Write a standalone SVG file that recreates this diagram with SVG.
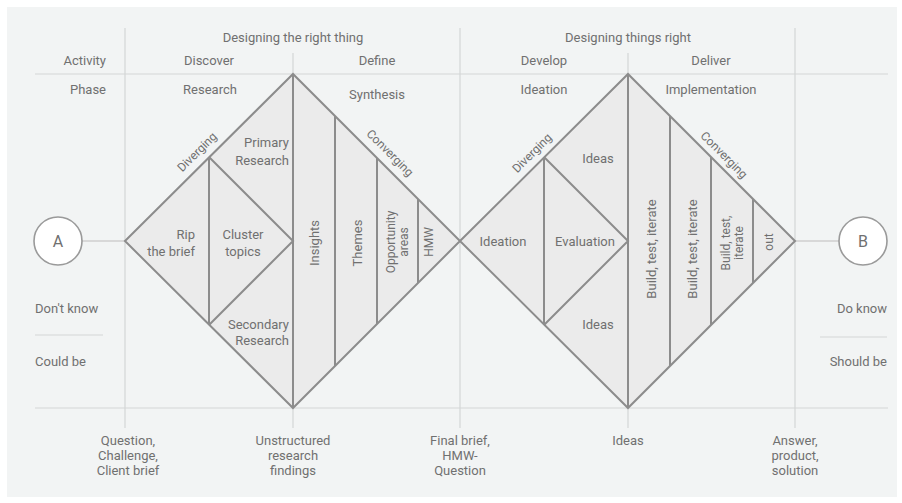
<svg xmlns="http://www.w3.org/2000/svg" width="902" height="503" viewBox="0 0 902 503">
<defs>
<style>
text{font-family:Roboto,"Liberation Sans",sans-serif;font-size:13px;fill:#707070}
.m{text-anchor:middle}
.e{text-anchor:end}
.s{text-anchor:start}
.c{dominant-baseline:central}
.sm{font-size:12px}
.grid{stroke:#d3d5d5;stroke-width:1.2;fill:none}
.dia{stroke:#8c8c8c;stroke-width:2;fill:#ebebeb;stroke-linejoin:miter}
.ln{stroke:#8c8c8c;stroke-width:2;fill:none}
.circ{fill:#ffffff;stroke:#9a9a9a;stroke-width:1.6}
.conn{stroke:#cfcfcf;stroke-width:1.5;fill:none}
</style>
</defs>
<rect x="0" y="0" width="902" height="503" fill="#ffffff"/>
<rect x="7" y="7" width="890" height="490" fill="#f2f4f4"/>

<g id="grid">
<line class="grid" x1="35" y1="74" x2="888" y2="74"/>
<line class="grid" x1="35" y1="408" x2="888" y2="408"/>
<line class="grid" x1="125" y1="28" x2="125" y2="428"/>
<line class="grid" x1="293" y1="53" x2="293" y2="428"/>
<line class="grid" x1="460" y1="28" x2="460" y2="428"/>
<line class="grid" x1="628" y1="53" x2="628" y2="428"/>
<line class="grid" x1="795" y1="28" x2="795" y2="428"/>
<line class="grid" x1="35" y1="335" x2="103" y2="335"/>
<line class="grid" x1="820" y1="337" x2="887" y2="337"/>
</g>

<g id="headers">
<text class="m" x="293" y="42">Designing the right thing</text>
<text class="m" x="628" y="42">Designing things right</text>
<text class="e" x="106" y="65">Activity</text>
<text class="m" x="209" y="65">Discover</text>
<text class="m" x="377" y="65">Define</text>
<text class="m" x="544" y="65">Develop</text>
<text class="m" x="711" y="65">Deliver</text>
<text class="e" x="106" y="94">Phase</text>
<text class="m" x="210" y="94">Research</text>
<text class="m" x="377" y="99">Synthesis</text>
<text class="m" x="544" y="94">Ideation</text>
<text class="m" x="711" y="94">Implementation</text>
</g>

<g id="connectors">
<line class="conn" x1="82" y1="241" x2="125" y2="241"/>
<line class="conn" x1="795" y1="241" x2="839" y2="241"/>
</g>

<g id="nodeA">
<circle class="circ" cx="58" cy="241" r="24"/>
<text class="m c" x="58" y="241" style="font-size:16px">A</text>
</g>
<g id="nodeB">
<circle class="circ" cx="863" cy="241" r="24"/>
<text class="m c" x="863" y="241" style="font-size:16px">B</text>
</g>

<g id="diamond1">
<polygon class="dia" points="125,241 293,74 460,241 293,408"/>
<polyline class="ln" points="209,157 293,241 209,325"/>
<line class="ln" x1="209" y1="157" x2="209" y2="325"/>
<line class="ln" x1="293" y1="74" x2="293" y2="408"/>
<line class="ln" x1="335" y1="116" x2="335" y2="366"/>
<line class="ln" x1="377" y1="158" x2="377" y2="324"/>
<line class="ln" x1="418" y1="199" x2="418" y2="283"/>
<text class="m c sm" transform="translate(197,152) rotate(-45)">Diverging</text>
<text class="m c sm" transform="translate(390,153) rotate(45)">Converging</text>
<text class="e" x="289" y="147">Primary</text>
<text class="e" x="289" y="165">Research</text>
<text class="e" x="195" y="239">Rip</text>
<text class="e" x="195" y="256">the brief</text>
<text class="m" x="243" y="239">Cluster</text>
<text class="m" x="243" y="256">topics</text>
<text class="e" x="289" y="329">Secondary</text>
<text class="e" x="289" y="345">Research</text>
<text class="m c" transform="translate(314,243) rotate(-90)">Insights</text>
<text class="m c" transform="translate(357,243) rotate(-90)">Themes</text>
<text class="m c sm" transform="translate(391,242) rotate(-90)">Opportunity</text>
<text class="m c sm" transform="translate(404,242) rotate(-90)">areas</text>
<text class="m c sm" transform="translate(429,242) rotate(-90)">HMW</text>
</g>

<g id="diamond2">
<polygon class="dia" points="460,241 628,74 795,241 628,408"/>
<polyline class="ln" points="544,157 628,241 544,325"/>
<line class="ln" x1="544" y1="157" x2="544" y2="325"/>
<line class="ln" x1="628" y1="74" x2="628" y2="408"/>
<line class="ln" x1="670" y1="116" x2="670" y2="366"/>
<line class="ln" x1="711" y1="157" x2="711" y2="325"/>
<line class="ln" x1="753" y1="199" x2="753" y2="283"/>
<text class="m c sm" transform="translate(532,153) rotate(-45)">Diverging</text>
<text class="m c sm" transform="translate(724,155) rotate(45)">Converging</text>
<text class="m" x="598" y="163">Ideas</text>
<text class="m" x="503" y="246">Ideation</text>
<text class="m" x="585" y="246">Evaluation</text>
<text class="m" x="598" y="329">Ideas</text>
<text class="m c" transform="translate(651,249) rotate(-90)">Build, test, iterate</text>
<text class="m c" transform="translate(692,249) rotate(-90)">Build, test, iterate</text>
<text class="m c sm" transform="translate(726,243) rotate(-90)">Build, test,</text>
<text class="m c sm" transform="translate(739,243) rotate(-90)">iterate</text>
<text class="m c sm" transform="translate(769,242) rotate(-90)">out</text>
</g>

<g id="sideLabels">
<text class="s" x="35" y="313">Don't know</text>
<text class="s" x="35" y="366">Could be</text>
<text class="e" x="887" y="313">Do know</text>
<text class="e" x="887" y="366">Should be</text>
</g>

<g id="bottomLabels">
<text class="m" x="128" y="445">Question,</text>
<text class="m" x="128" y="460">Challenge,</text>
<text class="m" x="128" y="475">Client brief</text>
<text class="m" x="293" y="445">Unstructured</text>
<text class="m" x="293" y="460">research</text>
<text class="m" x="293" y="475">findings</text>
<text class="m" x="460" y="445">Final brief,</text>
<text class="m" x="460" y="460">HMW-</text>
<text class="m" x="460" y="475">Question</text>
<text class="m" x="628" y="445">Ideas</text>
<text class="m" x="795" y="445">Answer,</text>
<text class="m" x="795" y="460">product,</text>
<text class="m" x="795" y="475">solution</text>
</g>
</svg>
